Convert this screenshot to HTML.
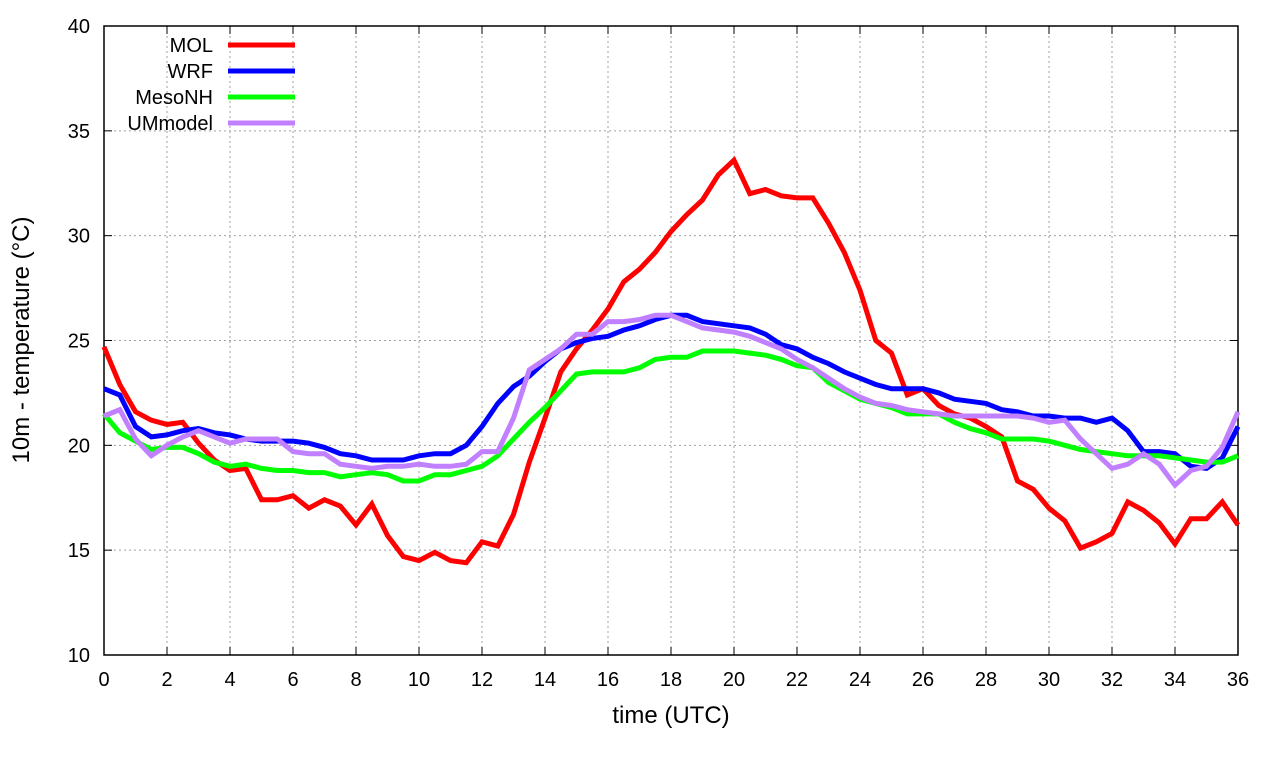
<!DOCTYPE html>
<html><head><meta charset="utf-8"><style>
body{margin:0;background:#fff;width:1280px;height:760px;overflow:hidden}
svg text{font-family:"Liberation Sans",sans-serif;fill:#000}
</style></head><body>
<svg id="chart" width="1280" height="760" xmlns="http://www.w3.org/2000/svg"></svg>
<script>
const xTicks=[0,2,4,6,8,10,12,14,16,18,20,22,24,26,28,30,32,34,36];
const yTicks=[10,15,20,25,30,35,40];
const seriesNames=["MOL","WRF","MesoNH","UMmodel"];
const seriesColors=["#ff0000","#0000ff","#00ff00","#c080ff"];
const molValues=[24.7,22.9,21.6,21.2,21.0,21.1,20.1,19.3,18.8,18.9,17.4,17.4,17.6,17.0,17.4,17.1,16.2,17.2,15.7,14.7,14.5,14.9,14.5,14.4,15.4,15.2,16.7,19.2,21.3,23.5,24.6,25.5,26.5,27.8,28.4,29.2,30.2,31.0,31.7,32.9,33.6,32.0,32.2,31.9,31.8,31.8,30.6,29.2,27.4,25.0,24.4,22.4,22.7,21.9,21.5,21.3,20.9,20.4,18.3,17.9,17.0,16.4,15.1,15.4,15.8,17.3,16.9,16.3,15.3,16.5,16.5,17.3,16.2];
const wrfValues=[22.7,22.4,20.9,20.4,20.5,20.7,20.8,20.6,20.5,20.3,20.2,20.2,20.2,20.1,19.9,19.6,19.5,19.3,19.3,19.3,19.5,19.6,19.6,20.0,20.9,22.0,22.8,23.3,24.0,24.6,24.9,25.1,25.2,25.5,25.7,26.0,26.2,26.2,25.9,25.8,25.7,25.6,25.3,24.8,24.6,24.2,23.9,23.5,23.2,22.9,22.7,22.7,22.7,22.5,22.2,22.1,22.0,21.7,21.6,21.4,21.4,21.3,21.3,21.1,21.3,20.7,19.7,19.7,19.6,19.0,18.9,19.4,20.9];
const mesonhValues=[21.5,20.6,20.2,19.8,19.9,19.9,19.6,19.2,19.0,19.1,18.9,18.8,18.8,18.7,18.7,18.5,18.6,18.7,18.6,18.3,18.3,18.6,18.6,18.8,19.0,19.5,20.3,21.1,21.8,22.6,23.4,23.5,23.5,23.5,23.7,24.1,24.2,24.2,24.5,24.5,24.5,24.4,24.3,24.1,23.8,23.7,23.0,22.6,22.2,22.0,21.8,21.5,21.5,21.5,21.1,20.8,20.6,20.3,20.3,20.3,20.2,20.0,19.8,19.7,19.6,19.5,19.5,19.5,19.4,19.3,19.2,19.2,19.5];
const umValues=[21.4,21.7,20.3,19.5,20.0,20.4,20.7,20.4,20.1,20.3,20.3,20.3,19.7,19.6,19.6,19.1,19.0,18.9,19.0,19.0,19.1,19.0,19.0,19.1,19.7,19.7,21.3,23.6,24.1,24.6,25.3,25.3,25.9,25.9,26.0,26.2,26.2,25.9,25.6,25.5,25.4,25.2,24.9,24.6,24.1,23.7,23.2,22.7,22.3,22.0,21.9,21.7,21.6,21.5,21.4,21.4,21.4,21.4,21.4,21.3,21.1,21.2,20.3,19.6,18.9,19.1,19.6,19.1,18.1,18.8,19.0,19.9,21.6];
const timeStep=0.5;

const svg=document.getElementById('chart');
const NS='http://www.w3.org/2000/svg';
const X0=104,X1=1238,Y0=655,Y1=26;
const xs=t=>X0+(t-0)/(36-0)*(X1-X0);
const ys=v=>Y0-(v-10)/(40-10)*(Y0-Y1);
function mk(tag,attrs,parent){const e=document.createElementNS(NS,tag);for(const k in attrs)e.setAttribute(k,attrs[k]);(parent||svg).appendChild(e);return e;}

const grid=mk('g',{});


xTicks.forEach(t=>{
  if(t>0&&t<36){const l=mk('line',{x1:xs(t),x2:xs(t),y1:Y1,y2:Y0,stroke:'#a0a0a0','stroke-dasharray':'2,3','stroke-width':1},grid);
  
  }
  const tk=mk('line',{x1:xs(t),x2:xs(t),y1:Y0,y2:Y0-8,stroke:'#000'});
  
  
  const tk2=mk('line',{x1:xs(t),x2:xs(t),y1:Y1,y2:Y1+8,stroke:'#000'});
  
  
  const tx=mk('text',{x:xs(t),y:Y0+31,'text-anchor':'middle','font-size':20});
  tx.textContent=t;
  
  
});
yTicks.forEach(v=>{
  if(v>10&&v<40){const l=mk('line',{x1:X0,x2:X1,y1:ys(v),y2:ys(v),stroke:'#a0a0a0','stroke-dasharray':'2,3','stroke-width':1},grid);
  
  }
  const tk=mk('line',{x1:X0,x2:X0+8,y1:ys(v),y2:ys(v),stroke:'#000'});
  
  
  const tk2=mk('line',{x1:X1,x2:X1-8,y1:ys(v),y2:ys(v),stroke:'#000'});
  
  
  const tx=mk('text',{x:X0-14,y:ys(v)+7,'text-anchor':'end','font-size':20});
  tx.textContent=v;
  
  
});
const frame=mk('rect',{x:X0,y:Y1,width:X1-X0,height:Y0-Y1,fill:'none',stroke:'#000','stroke-width':1.5});



const allSeries=[molValues,wrfValues,mesonhValues,umValues];
allSeries.forEach((vals,i)=>{
  const d=vals.map((v,j)=>(j?'L':'M')+xs(j*timeStep).toFixed(1)+','+ys(v).toFixed(1)).join('');
  const p=mk('path',{d:d,fill:'none',stroke:seriesColors[i],'stroke-width':5,'stroke-linejoin':'miter'});
  
  
});
seriesNames.forEach((n,i)=>{
  const y=45+i*26;
  const tx=mk('text',{x:213,y:y+7,'text-anchor':'end','font-size':20});
  tx.textContent=n;
  
  
  const l=mk('line',{x1:228,x2:295,y1:y,y2:y,stroke:seriesColors[i],'stroke-width':5});
  
  
});
const xl=mk('text',{x:(X0+X1)/2,y:723,'text-anchor':'middle','font-size':24});
xl.textContent='time (UTC)';


const yl=mk('text',{x:0,y:0,'text-anchor':'middle','font-size':24,transform:'translate(29,340) rotate(-90)'});
yl.textContent='10m - temperature (°C)';


</script>
</body></html>
